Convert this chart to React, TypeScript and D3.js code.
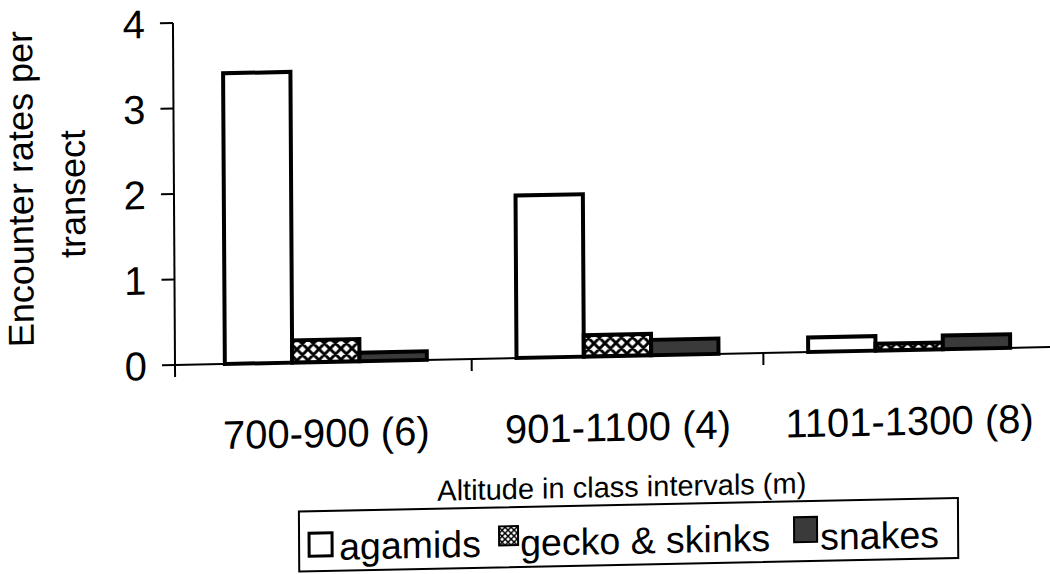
import React from "react";
import * as d3 from "d3";

const categories = ["700-900 (6)", "901-1100 (4)", "1101-1300 (8)"];
const seriesNames = ["agamids", "gecko & skinks", "snakes"];
const agamids = [3.4, 1.9, 0.17];
const geckoSkinks = [0.26, 0.25, 0.08];
const snakes = [0.1, 0.18, 0.16];
const yTicks = [0, 1, 2, 3, 4];

const W = 1050;
const H = 574;
const FONT = "'Liberation Sans', Arial, Helvetica, sans-serif";

export default function App() {
  const x = d3.scaleBand<string>().domain(categories).range([180, 1055]);
  const y = d3.scaleLinear().domain([0, 4]).range([365, 23]);
  const groupWidth = 202;
  const inner = d3
    .scaleBand<string>()
    .domain(seriesNames)
    .range([0, groupWidth]);
  const values = [agamids, geckoSkinks, snakes];
  const fills = ["#ffffff", "url(#xhatch)", "#3a3a3a"];

  const b = -0.0205;
  const c = 0.006;
  const transform = `matrix(1,${b},${c},1,${-c * 365},${-b * 175})`;

  const x0 = 175;
  const y0 = y(0);

  return (
    <svg
      width={W}
      height={H}
      style={{ position: "absolute", left: 0, top: 0, background: "#fff" }}
      fontFamily={FONT}
    >
      <defs>
        <pattern id="xhatch" patternUnits="userSpaceOnUse" width={11} height={11}>
          <rect width={11} height={11} fill="#fff" />
          <path d="M0,0 L11,11 M11,0 L0,11 M-2,9 L2,13 M9,-2 L13,2 M9,13 L13,9 M-2,2 L2,-2" stroke="#000" strokeWidth={2.8} />
        </pattern>
        <pattern id="xhatchSmall" patternUnits="userSpaceOnUse" width={6} height={6}>
          <rect width={6} height={6} fill="#fff" />
          <path d="M0,0 L6,6 M6,0 L0,6" stroke="#000" strokeWidth={1.4} />
        </pattern>
      </defs>
      <g transform={transform}>
        {/* bars */}
        {categories.map((cat, ci) => {
          const start = (x(cat) as number) + (x.bandwidth() - groupWidth) / 2;
          return seriesNames.map((s, si) => {
            const v = values[si][ci];
            return (
              <rect
                key={cat + s}
                x={start + (inner(s) as number)}
                y={y(v)}
                width={inner.bandwidth()}
                height={y0 - y(v)}
                fill={fills[si]}
                stroke="#000"
                strokeWidth={4}
              />
            );
          });
        })}
        {/* axes */}
        <line x1={x0} y1={y(4)} x2={x0} y2={y0 + 12} stroke="#000" strokeWidth={2} />
        <line x1={x0} y1={y0} x2={1055} y2={y0} stroke="#000" strokeWidth={2} />
        {yTicks.map((t) => (
          <g key={t}>
            <line x1={x0 - 13} x2={x0} y1={y(t)} y2={y(t)} stroke="#000" strokeWidth={2} />
            <text x={147} y={y(t)} dy="0.36em" textAnchor="end" fontSize={40} fill="#000">
              {t}
            </text>
          </g>
        ))}
        {categories.slice(1).map((cat) => (
          <line
            key={cat}
            x1={x(cat) as number}
            x2={x(cat) as number}
            y1={y0}
            y2={y0 + 12}
            stroke="#000"
            strokeWidth={2}
          />
        ))}
        {categories.map((cat) => (
          <text
            key={cat}
            x={(x(cat) as number) + x.bandwidth() / 2}
            y={450}
            textAnchor="middle"
            fontSize={40}
            fill="#000"
          >
            {cat}
          </text>
        ))}
        {/* y title */}
        <text transform="translate(34,186) rotate(-90)" textAnchor="middle" fontSize={36} fill="#000">
          Encounter rates per
        </text>
        <text transform="translate(86,192) rotate(-90)" textAnchor="middle" fontSize={36} fill="#000">
          transect
        </text>
        {/* x title */}
        <text x={621} y={506} textAnchor="middle" fontSize={29} fill="#000">
          Altitude in class intervals (m)
        </text>
        {/* legend */}
        <rect x={298} y={514} width={659} height={60} fill="none" stroke="#000" strokeWidth={2} />
        <rect x={308} y={536} width={23} height={23} fill="#fff" stroke="#000" strokeWidth={3} />
        <text x={338} y={563} fontSize={37.5} fill="#000">{seriesNames[0]}</text>
        <rect x={498} y={533} width={19} height={19} fill="url(#xhatchSmall)" stroke="#000" strokeWidth={2} />
        <text x={519} y={563} fontSize={37.5} fill="#000">{seriesNames[1]}</text>
        <rect x={793} y={530} width={23} height={25} fill="#3a3a3a" stroke="#000" strokeWidth={2} />
        <text x={819} y={563} fontSize={37.5} fill="#000">{seriesNames[2]}</text>
      </g>
    </svg>
  );
}
